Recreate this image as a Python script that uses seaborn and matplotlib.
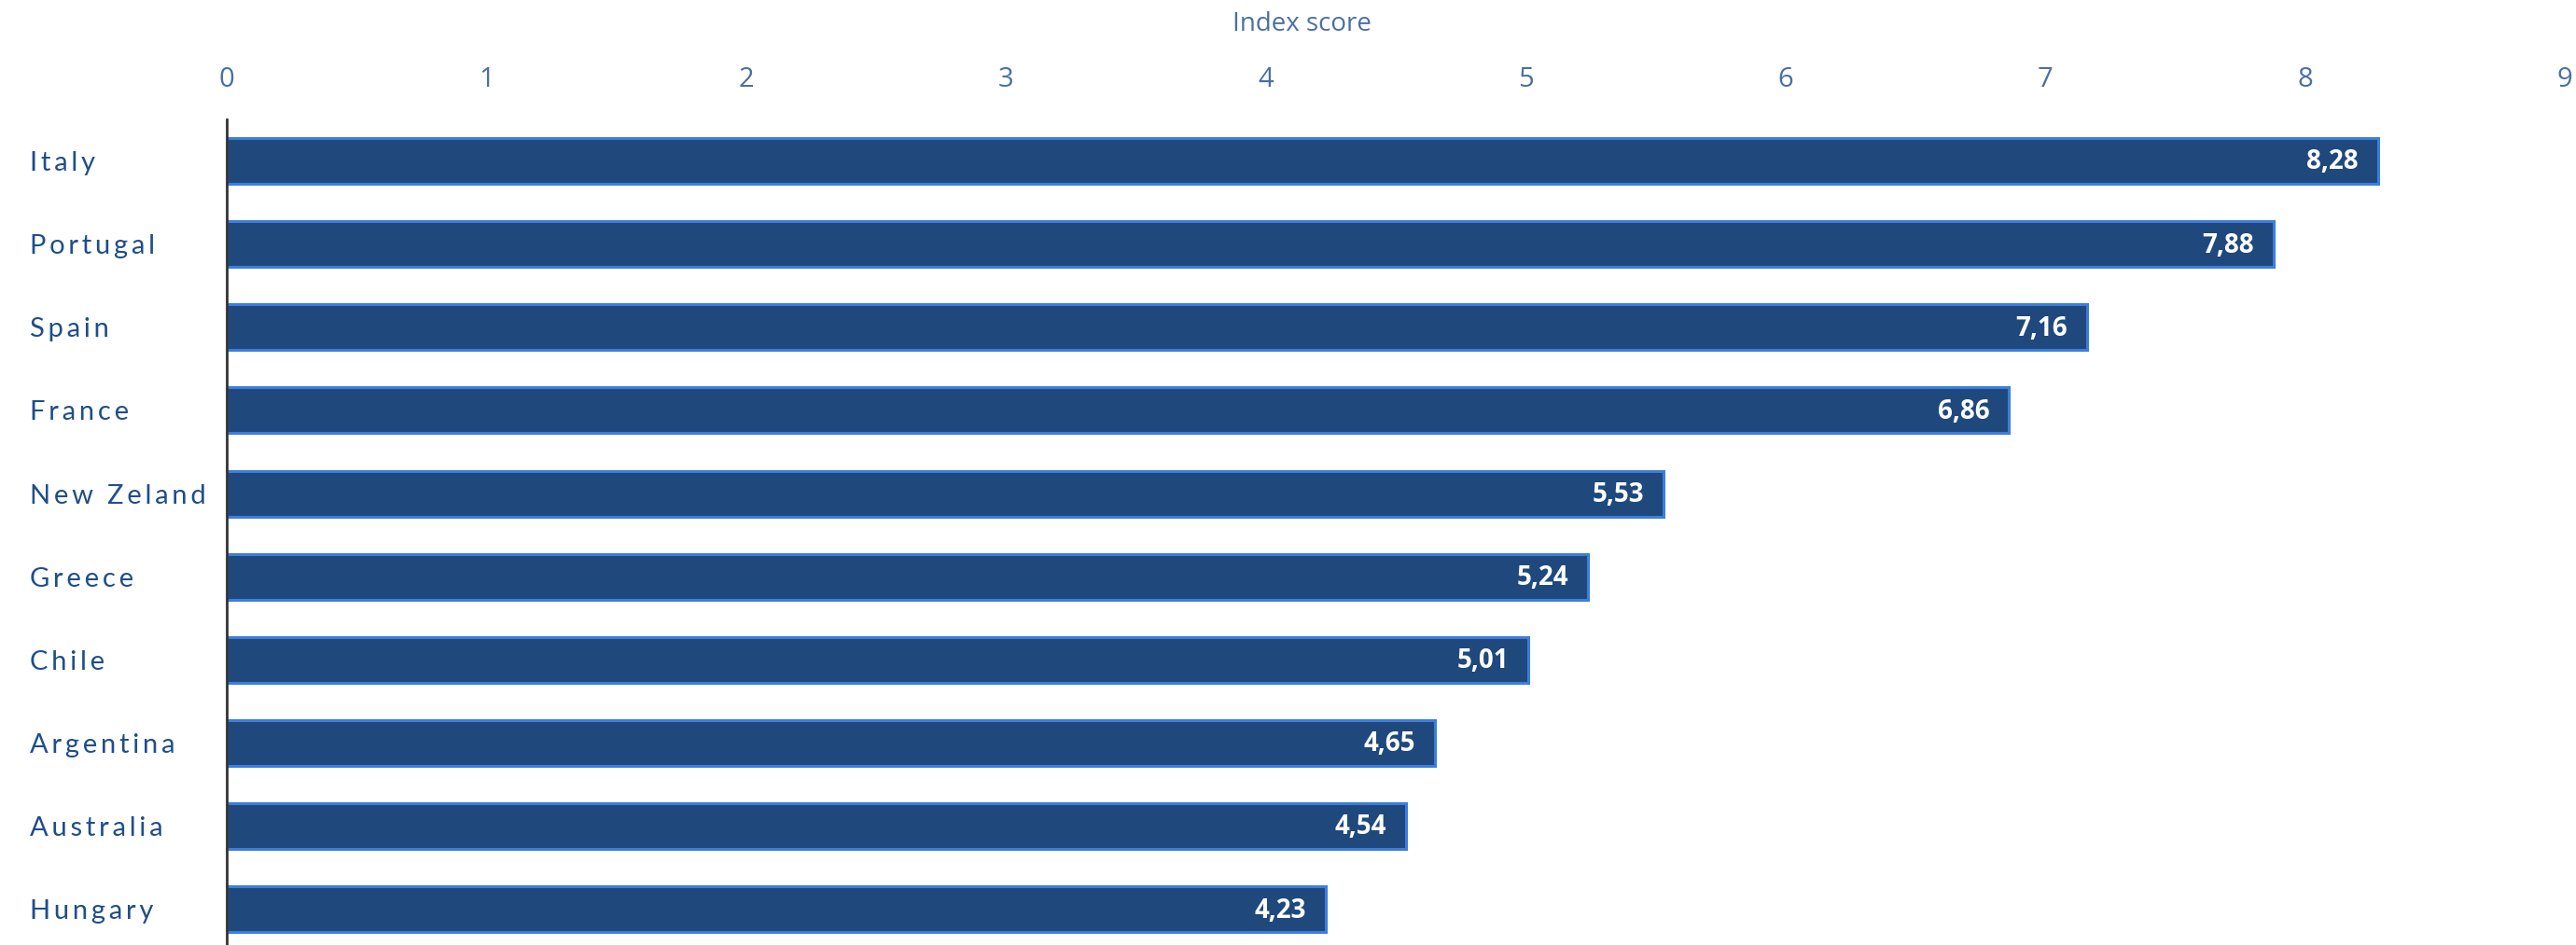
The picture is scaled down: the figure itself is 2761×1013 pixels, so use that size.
import matplotlib
matplotlib.use("Agg")
import matplotlib.pyplot as plt
import seaborn as sns
import pandas as pd

countries = ["Italy", "Portugal", "Spain", "France", "New Zeland",
             "Greece", "Chile", "Argentina", "Australia", "Hungary"]
scores = [8.28, 7.88, 7.16, 6.86, 5.53, 5.24, 5.01, 4.65, 4.54, 4.23]
x_ticks = [0, 1, 2, 3, 4, 5, 6, 7, 8, 9]

df = pd.DataFrame({"country": countries, "score": scores})

sns.set_theme(style="white")
plt.rcParams["font.family"] = ["Open Sans", "DejaVu Sans"]

W, H = 2761, 1013
fig = plt.figure(figsize=(W / 100, H / 100), dpi=100)
ax = fig.add_axes([243 / W, 0, (2749 - 243) / W, 1 - 128 / H])

bar_fill = "#1F497D"
bar_edge = "#3C7EDC"
tick_col = "#4A6FA2"
label_col = "#1F4E89"

sns.barplot(data=df, y="country", x="score", orient="h", width=0.55,
            color=bar_fill, edgecolor=bar_edge, linewidth=2.2,
            saturation=1, ax=ax)

ax.set_xlim(0, 9)
ax.set_ylim(9.43, -0.5)
ax.set_xticks(x_ticks)
ax.xaxis.tick_top()
ax.xaxis.set_label_position("top")
ax.tick_params(axis="x", length=0, pad=20, labelsize=21, labelcolor=tick_col)
ax.set_xlabel("Index score", fontsize=20, color=tick_col)
ax.xaxis.set_label_coords(0.46, 1.115)
ax.xaxis.label.set_verticalalignment("center")
ax.set_ylabel("")

# spaced-out country names
spaced = ["\u200a\u200a".join(c) for c in countries]
ax.set_yticks(range(len(countries)))
ax.set_yticklabels(spaced)
ax.tick_params(axis="y", length=0, pad=152, labelsize=21, labelcolor=label_col)
for lab in ax.get_yticklabels():
    lab.set_horizontalalignment("left")
    lab.set_fontfamily(["Lato", "DejaVu Sans"])

for side in ["top", "right", "bottom"]:
    ax.spines[side].set_visible(False)
ax.spines["left"].set_color("#333333")
ax.spines["left"].set_linewidth(2)
ax.grid(False)

# value labels inside the bar ends, decimal comma
for i, v in enumerate(scores):
    ax.annotate(f"{v:.2f}".replace(".", ","), xy=(v, i), xytext=(-15, -1),
                textcoords="offset points", ha="right", va="center",
                color="white", fontsize=20, fontweight="bold")

fig.savefig("out.png", dpi=100, facecolor="white")
